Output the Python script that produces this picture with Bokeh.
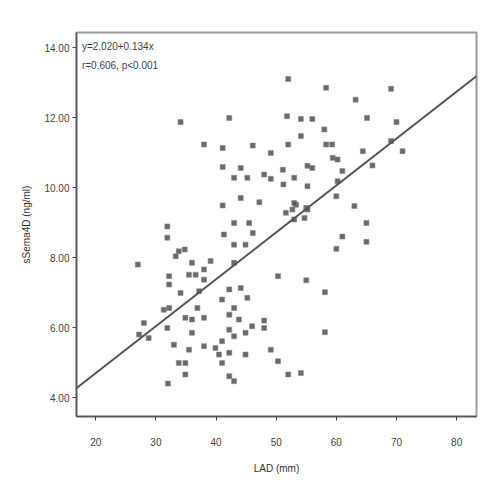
from bokeh.plotting import figure
from bokeh.models import Slope, Label, FixedTicker, Range1d, NumeralTickFormatter
from bokeh.embed import file_html
from bokeh.resources import INLINE

lad = [34.1, 42.2, 38.0, 41.1, 46.1, 49.1, 41.1, 44.1, 43.0, 45.2, 48.0, 49.1, 51.1, 51.2,
       41.1, 44.1, 47.2, 51.6, 31.9, 43.0, 45.5, 46.1, 41.3, 31.9, 51.8, 52.0, 58.3, 63.2,
       69.1, 54.1, 56.0, 65.1, 70.0, 58.0, 54.1, 52.0, 58.3, 59.3, 64.4, 71.0, 59.4, 60.2,
       66.0, 55.2, 56.0, 61.0, 53.0, 55.2, 60.2, 60.0, 63.0, 53.3, 53.0, 55.0, 65.0, 61.0,
       65.0, 69.1, 33.8, 34.8, 33.3, 43.0, 44.9, 27.0, 36.0, 39.1, 38.0, 35.5, 36.6, 32.2,
       32.2, 38.0, 43.0, 50.3, 34.1, 37.2, 42.2, 44.1, 41.0, 45.2, 31.3, 32.2, 36.9, 43.0,
       34.9, 36.0, 38.0, 42.2, 43.8, 28.0, 31.9, 36.0, 46.0, 48.0, 48.0, 43.0, 44.9, 27.2,
       28.8, 33.0, 35.5, 38.0, 39.9, 41.0, 42.2, 44.9, 40.5, 49.1, 50.3, 52.0, 33.8, 34.9,
       41.0, 34.9, 42.2, 43.0, 32.0, 60.0, 55.0, 58.1, 58.1, 54.1, 52.7, 55.2, 54.7, 53.0,
       42.2]
sema = [11.87, 11.99, 11.23, 11.13, 11.20, 10.99, 10.59, 10.56, 10.28, 10.28, 10.37, 10.25, 10.51, 10.09,
        9.49, 9.70, 9.58, 9.28, 8.89, 8.99, 8.99, 8.70, 8.66, 8.57, 12.04, 13.10, 12.85, 12.51,
        12.82, 11.96, 11.96, 11.99, 11.87, 11.66, 11.47, 11.23, 11.23, 11.23, 11.04, 11.04, 10.85, 10.80,
        10.63, 10.62, 10.56, 10.47, 10.28, 10.04, 10.18, 9.75, 9.47, 9.51, 9.09, 9.42, 8.99, 8.60,
        8.45, 11.33, 8.18, 8.23, 8.04, 8.37, 8.37, 7.80, 7.85, 7.90, 7.66, 7.51, 7.51, 7.47,
        7.23, 7.37, 7.85, 7.47, 6.99, 7.04, 7.09, 7.13, 6.80, 6.85, 6.51, 6.56, 6.56, 6.56,
        6.28, 6.23, 6.28, 6.37, 6.23, 6.13, 5.99, 5.85, 6.04, 6.20, 5.99, 5.75, 5.85, 5.80,
        5.70, 5.51, 5.37, 5.47, 5.42, 5.61, 5.28, 5.23, 5.23, 5.37, 5.04, 4.66, 4.99, 4.99,
        4.99, 4.66, 4.61, 4.47, 4.40, 8.25, 7.35, 7.01, 5.87, 4.70, 9.37, 9.37, 9.13, 9.56,
        5.94]

x_ticks = [20, 30, 40, 50, 60, 70, 80]
y_ticks = [4, 6, 8, 10, 12, 14]
intercept = 2.020
slope = 0.134
eq_text = "y=2.020+0.134x"
stat_text = "r=0.606, p<0.001"

p = figure(width=484, height=484, output_backend="svg", toolbar_location=None,
           x_range=Range1d(16.8, 83.3), y_range=Range1d(3.46, 14.43),
           min_border_left=76, min_border_right=8, min_border_top=32, min_border_bottom=68)
p.grid.visible = False
p.outline_line_color = "#9a9a9a"
p.outline_line_width = 2
p.background_fill_color = "white"

p.scatter(lad, sema, marker="square", size=5, fill_color="#505050", fill_alpha=0.85,
          line_color="#888888", line_alpha=0.6)
p.add_layout(Slope(gradient=slope, y_intercept=intercept, line_color="#555555", line_width=2))

font = "Liberation Sans"
for ax in (p.xaxis[0], p.yaxis[0]):
    ax.axis_line_color = "#555555"
    ax.axis_line_width = 1.5
    ax.major_tick_line_color = "#444444"
    ax.minor_tick_line_color = None
    ax.major_tick_out = 4
    ax.major_tick_in = 0
    ax.major_label_text_font = font
    ax.major_label_text_font_size = "10px"
    ax.major_label_text_color = "#444444"
    ax.axis_label_text_font = font
    ax.axis_label_text_font_size = "10px"
    ax.axis_label_text_color = "#333333"
    ax.axis_label_text_font_style = "normal"

p.xaxis[0].ticker = FixedTicker(ticks=x_ticks)
p.yaxis[0].ticker = FixedTicker(ticks=y_ticks)
p.yaxis[0].formatter = NumeralTickFormatter(format="0.00")
p.xaxis[0].axis_label = "LAD (mm)"
p.yaxis[0].axis_label = "sSema4D (ng/ml)"
p.xaxis[0].major_label_standoff = 17
p.xaxis[0].axis_label_standoff = 14
p.yaxis[0].major_label_standoff = 3
p.yaxis[0].axis_label_standoff = 9

p.add_layout(Label(x=17.7, y=14.2, text=eq_text, text_font=font, text_font_size="10px",
                   text_color="#444444", text_baseline="top"))
p.add_layout(Label(x=17.7, y=13.65, text=stat_text, text_font=font, text_font_size="10px",
                   text_color="#444444", text_baseline="top"))

open("out.html", "w").write(file_html(p, INLINE))
